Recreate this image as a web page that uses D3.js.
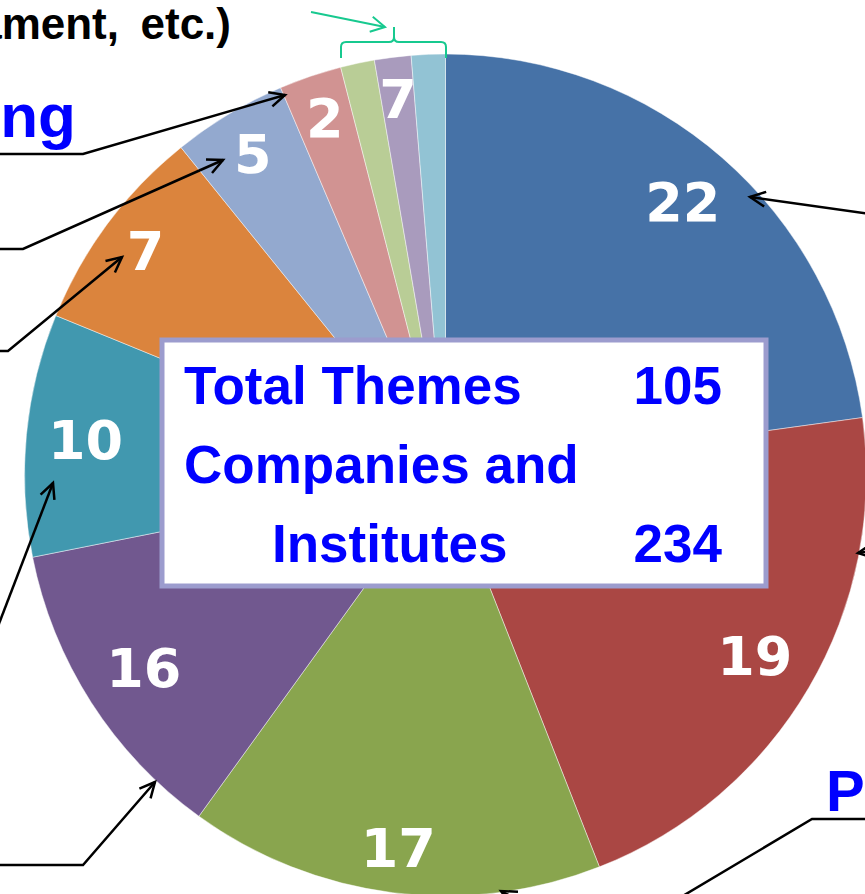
<!DOCTYPE html>
<html>
<head>
<meta charset="utf-8">
<script src="https://cdn.jsdelivr.net/npm/d3@7"></script>
<style>
  body { margin: 0; background: #fff; overflow: hidden; }
</style>
</head>
<body>
<script>
// slice shares (% of the circle), clockwise from 12 o'clock
const sliceShares = [22.8, 21.2, 15.9, 11.9, 9.3, 8.0, 4.4, 2.4, 1.3, 1.4, 1.3];
// numbers printed on the slices (the three thin slices share one "7")
const sliceLabels = ["22", "19", "17", "16", "10", "7", "5", "2", "", "7", ""];
const sliceColors = ["#4672A7", "#AA4744", "#89A54E", "#71588F", "#4198AF", "#DB843D",
                     "#93A9CF", "#D19392", "#B9CD96", "#A99BBD", "#92C3D4"];

// summary box
const summaryNames = ["Total Themes", "Companies and", "Institutes"];
const summaryValues = ["105", "", "234"];

// category captions cut by the picture frame
const captions = [
  { text: "ament,", x: 119, y: 39, size: 44, color: "#000", anchor: "end" },
  { text: "etc.)", x: 231, y: 39, size: 44, color: "#000", anchor: "end" },
  { text: "ng", x: 76, y: 137, size: 62, color: "#0000FF", anchor: "end" },
  { text: "P", x: 826, y: 811, size: 58, color: "#0000FF", anchor: "start" }
];

const width = 865, height = 894;
const cx = 445.5, cy = 475, radius = 421;

const svg = d3.select("body").append("svg")
  .attr("width", width)
  .attr("height", height)
  .style("font-family", "'Liberation Sans', Arial, sans-serif");

// pie
const pie = d3.pie().sort(null).value(d => d);
const arcs = pie(sliceShares);
const arc = d3.arc().innerRadius(0).outerRadius(radius);

const g = svg.append("g").attr("transform", `translate(${cx},${cy})`);

g.selectAll("path")
  .data(arcs)
  .join("path")
  .attr("d", arc)
  .attr("fill", (d, i) => sliceColors[i])
  .attr("stroke", "rgba(255,255,255,0.45)")
  .attr("stroke-width", 1);

// slice numbers: placed "inside end", text box kept a fixed gap from the rim
const labels = g.selectAll("text.slice")
  .data(arcs)
  .join("text")
  .attr("class", "slice")
  .attr("text-anchor", "middle")
  .attr("dominant-baseline", "central")
  .attr("fill", "#fff")
  .attr("font-family", "'DejaVu Sans', sans-serif")
  .attr("font-weight", "bold")
  .attr("font-size", 54)
  .text((d, i) => sliceLabels[i]);

labels.each(function (d) {
  const a = (d.startAngle + d.endAngle) / 2;
  const bb = this.getBBox();
  const ext = Math.abs(Math.sin(a)) * bb.width / 2 + Math.abs(Math.cos(a)) * 20;
  const r = radius - 20 - ext;
  d3.select(this)
    .attr("x", r * Math.sin(a))
    .attr("y", -r * Math.cos(a));
});

// summary box
const box = svg.append("g");
box.append("rect")
  .attr("x", 162).attr("y", 340)
  .attr("width", 604).attr("height", 246)
  .attr("fill", "#fff")
  .attr("stroke", "#9C9CCE")
  .attr("stroke-width", 5);

const rowY = d3.scalePoint().domain(summaryNames).range([404, 562]);
box.selectAll("text.name")
  .data(summaryNames)
  .join("text")
  .attr("class", "name")
  .attr("x", (d, i) => i === 2 ? 272 : 184)
  .attr("y", d => rowY(d))
  .attr("fill", "#0000FF")
  .attr("font-weight", "bold")
  .attr("font-size", 53)
  .text(d => d);

box.selectAll("text.val")
  .data(summaryValues)
  .join("text")
  .attr("class", "val")
  .attr("x", 722)
  .attr("y", (d, i) => rowY(summaryNames[i]))
  .attr("text-anchor", "end")
  .attr("fill", "#0000FF")
  .attr("font-weight", "bold")
  .attr("font-size", 53)
  .text(d => d);

// captions
svg.selectAll("text.cap")
  .data(captions)
  .join("text")
  .attr("class", "cap")
  .attr("x", d => d.x)
  .attr("y", d => d.y)
  .attr("text-anchor", d => d.anchor)
  .attr("fill", d => d.color)
  .attr("font-weight", "bold")
  .attr("font-size", d => d.size)
  .text(d => d.text);

// callout lines (last point is the arrow tip when arrow = true)
const callouts = [
  { pts: [[-5, 154], [83, 154], [285, 95]], arrow: true },
  { pts: [[-5, 249], [23, 249], [223, 160]], arrow: true },
  { pts: [[-5, 351], [8, 351], [122, 257]], arrow: true },
  { pts: [[-5, 634], [53, 483]], arrow: true },
  { pts: [[-5, 865], [83, 865], [155, 782]], arrow: true },
  { pts: [[870, 214], [750, 197]], arrow: true },
  { pts: [[880, 550], [858, 553]], arrow: true },
  { pts: [[540, 912], [501, 891]], arrow: true },
  { pts: [[870, 819], [812, 819], [676, 900]], arrow: false }
];

function arrowHead(tip, from, len, half) {
  const ang = Math.atan2(tip[1] - from[1], tip[0] - from[0]);
  const p1 = [tip[0] - len * Math.cos(ang - half), tip[1] - len * Math.sin(ang - half)];
  const p2 = [tip[0] - len * Math.cos(ang + half), tip[1] - len * Math.sin(ang + half)];
  return `M${p1}L${tip}L${p2}`;
}

const line = d3.line();
const lines = svg.append("g")
  .attr("fill", "none")
  .attr("stroke", "#000")
  .attr("stroke-width", 2.5)
  .attr("stroke-linejoin", "miter");

callouts.forEach(c => {
  lines.append("path").attr("d", line(c.pts));
  if (c.arrow) {
    const n = c.pts.length;
    lines.append("path").attr("d", arrowHead(c.pts[n - 1], c.pts[n - 2], 17, 0.45));
  }
});

// green brace over the three thin slices and its arrow
const green = svg.append("g")
  .attr("fill", "none")
  .attr("stroke", "#17C98F")
  .attr("stroke-width", 2);

green.append("path")
  .attr("d", "M341,58 V47 Q341,42 346,42 H389 Q394,42 394,37 V27 M394,37 Q394,42 399,42 H441 Q446,42 446,47 V58");
green.append("path").attr("d", "M311,12 L385,27");
green.append("path").attr("d", arrowHead([385, 27], [311, 12], 16, 0.5));
</script>
</body>
</html>
